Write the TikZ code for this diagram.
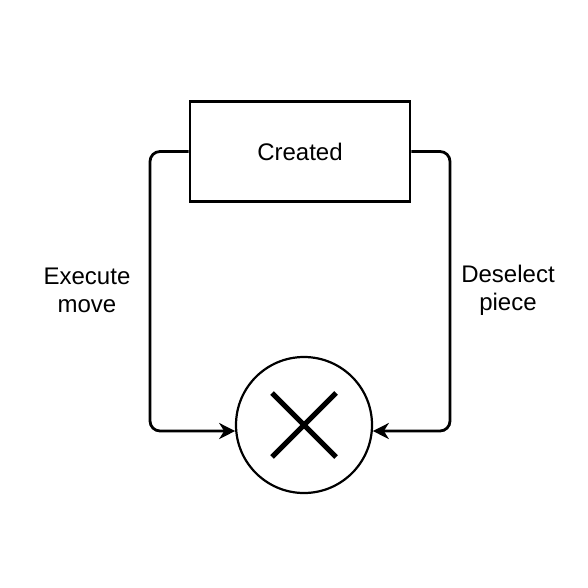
\documentclass[tikz,border=0pt]{standalone}
\usepackage{fontspec}
\setmainfont{Liberation Sans}
\usetikzlibrary{arrows.meta, positioning}
\tikzset{statebox/.style={draw=black, line width=1.4pt, minimum width=110pt, minimum height=50pt, inner sep=0pt, font=\fontsize{12}{14}\selectfont},
         endstate/.style={draw=black, line width=1.1pt, circle, minimum size=68pt, inner sep=0pt},
         flow/.style={line width=1.4pt, rounded corners=5pt, -{Stealth[length=8pt, width=8pt, inset=2.5pt]}},
         lbl/.style={align=center, font=\fontsize{12}{14}\selectfont}}

\begin{document}
\begin{tikzpicture}[x=0.5pt, y=-0.5pt]
    \useasboundingbox (0, 0) rectangle (588, 588);
    \node[statebox] (created) at (300, 151.5) {Created};
    \node[endstate] (final) at (304, 425) {};
    \draw[line width=2.6pt] (final.center) ++(-32, -32) -- ++(64, 64);
    \draw[line width=2.6pt] (final.center) ++(32, -32) -- ++(-64, 64);
    \coordinate (lcorner) at (150, 431);
    \coordinate (rcorner) at (450, 431);
    \draw[flow] (created.west) -| (lcorner) -- (final.185);
    \draw[flow] (created.east) -| (rcorner) -- (final.355);
    \node[lbl] (execute) at (87, 290) {Execute\\move};
    \node[lbl] (deselect) at (508, 290) {Deselect\\piece};
\end{tikzpicture}
\end{document}
